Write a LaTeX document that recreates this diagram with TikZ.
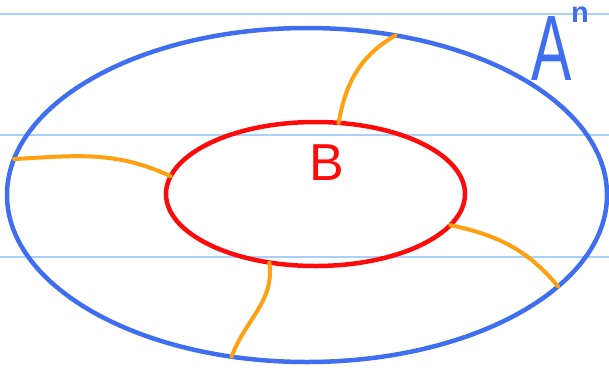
\documentclass[tikz,border=0pt]{standalone}
\usepackage{fontspec}
\setmainfont{Liberation Sans}
\usetikzlibrary{shapes.geometric}
\definecolor{SetBlue}{HTML}{3F6FF0}
\definecolor{SubRed}{HTML}{FF0A0A}
\definecolor{PathOrange}{HTML}{FFA010}
\definecolor{RuleBlue}{HTML}{A9D1F7}

\begin{document}
\begin{tikzpicture}[
    x=1pt,y=1pt,
    setell/.style={draw,ellipse,inner sep=0pt,outer sep=0pt,line width=4.5pt},
    ruleline/.style={draw=RuleBlue,line width=1.5pt},
    linkpath/.style={draw=PathOrange,line width=4pt,line cap=round}
  ]
  \useasboundingbox (0,0) rectangle (609,-369);
  % ruled paper
  \foreach \yy in {14,135,257}
    \draw[ruleline] (0,-\yy) -- (609,-\yy);
  % the two sets
  \node[setell,draw=SetBlue,minimum width=600pt,minimum height=334pt] (An) at (307,-195) {};
  \node[setell,draw=SubRed,minimum width=299pt,minimum height=144pt] (B) at (315.5,-194) {};
  \node[SubRed,inner sep=0pt,font=\fontsize{52}{52}\selectfont] (Blbl) at (327,-163) {B};
  \node[SetBlue,inner sep=0pt,xscale=0.65,font=\fontsize{93}{93}\selectfont] (Albl) at (552,-48.5) {A};
  \node[SetBlue,inner sep=0pt,font=\bfseries\fontsize{29}{29}\selectfont] (nlbl) at (580,-15) {n};
  % paths between the sets
  \draw[linkpath] (B.72) to[out=80,in=210] (An.61);
  \draw[linkpath] (B.173) to[out=155,in=3] (An.173);
  \draw[linkpath] (B.-13) to[out=-12,in=130] (An.-20);
  \draw[linkpath] (B.236) to[out=-82,in=70] (An.245);
\end{tikzpicture}
\end{document}
